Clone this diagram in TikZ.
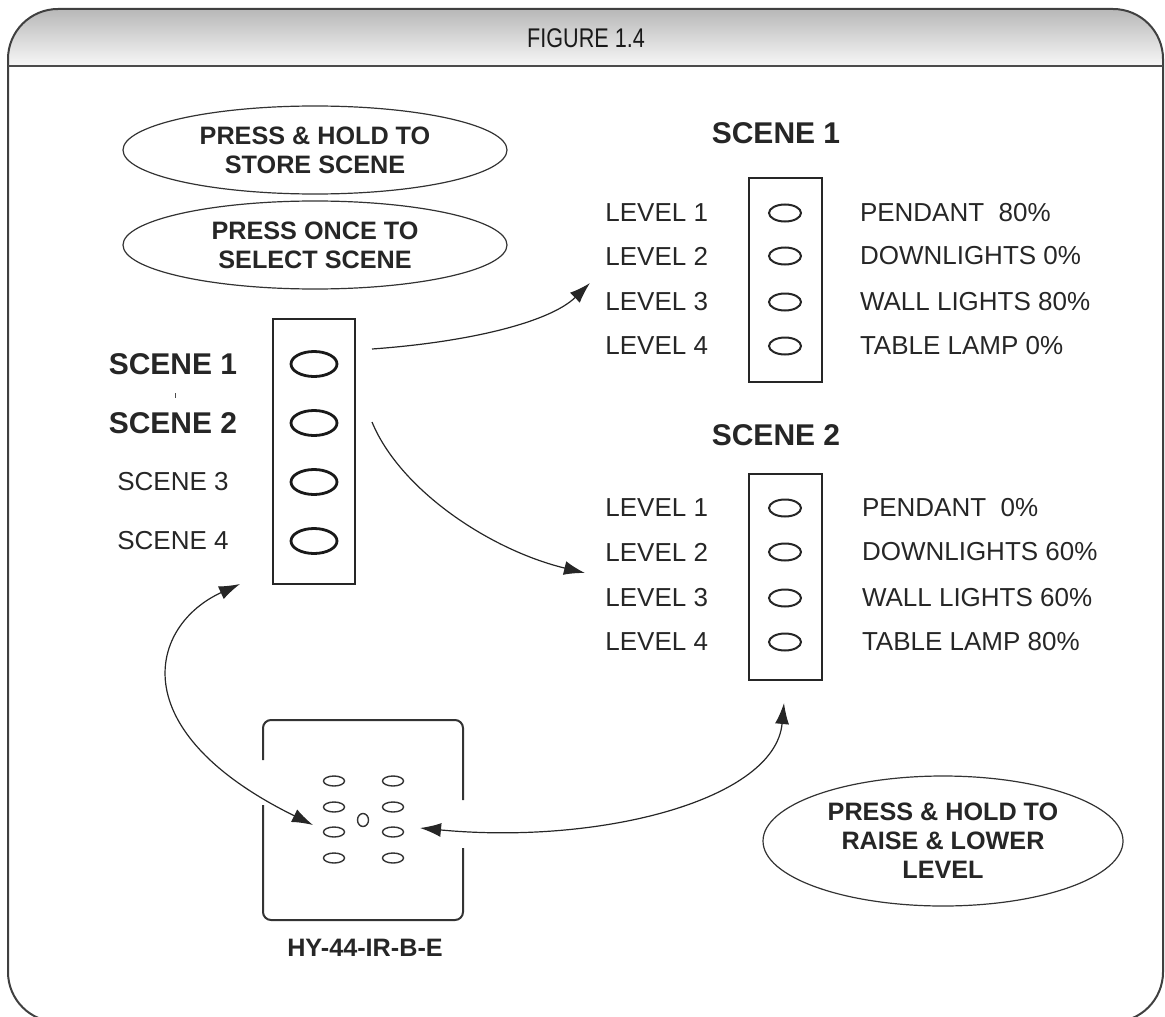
\documentclass[tikz,border=0pt]{standalone}
\usepackage{fontspec}
\setmainfont{Liberation Sans}
\newfontfamily\narrowfont[FakeStretch=0.8]{Liberation Sans}
\usepackage{tikz}
\usetikzlibrary{shapes.geometric, arrows.meta, positioning}

\begin{document}
\begin{tikzpicture}[
	x=0.5pt, y=-0.5pt,
	>={Latex[length=10.5pt, width=7pt]},
	every node/.style = {inner sep=0mm, outer sep=0mm, text=black!85},
	hint/.style = {shape=ellipse, draw=black!80, line width=0.6pt, minimum width=192pt, minimum height=44pt, align=center, font=\fontsize{12.6}{14.5}\selectfont\bfseries},
	panel/.style = {shape=rectangle, draw=black!85, line width=1pt, minimum width=36.5pt},
	bigbtn/.style = {shape=ellipse, draw=black!90, line width=1.4pt, minimum width=23pt, minimum height=12.5pt},
	btn/.style = {shape=ellipse, draw=black!85, line width=1pt, minimum width=16pt, minimum height=8.5pt},
	keybtn/.style = {shape=ellipse, draw=black!80, line width=0.7pt, minimum width=10.5pt, minimum height=5pt},
	scn/.style = {font=\fontsize{15}{18}\selectfont\bfseries},
	lvl/.style = {font=\fontsize{13}{15}\selectfont},
	link/.style = {draw=black!85, line width=0.6pt, ->},
	dlink/.style = {draw=black!85, line width=0.6pt, <->},
	]
\useasboundingbox (0,0) rectangle (1165,1016);
% frame and header
\shade[top color=black!28, bottom color=black!3, rounded corners=25pt] (8,66) -- (8,9) -- (1163,9) -- (1163,66);
\draw[black!75, line width=1pt, rounded corners=25pt] (8,1022) -- (8,9) -- (1163,9) -- (1163,1022) -- cycle;
\draw[black!70, line width=1.2pt] (8,66) -- (1163,66);
\node[font=\narrowfont\fontsize{13.5}{16}\selectfont, text=black!90] (title) at (586,38) {FIGURE 1.4};

% notes
\node[hint] (store) at (315,150) {PRESS \& HOLD TO\\STORE SCENE};
\node[hint] (select) at (315,245) {PRESS ONCE TO\\SELECT SCENE};
\node[hint, minimum width=180pt, minimum height=65pt] (raise) at (943,841) {PRESS \& HOLD TO\\RAISE \& LOWER\\LEVEL};

% scene selector
\node[panel, minimum width=41pt, minimum height=132.5pt] (sel) at (314,451) {};
\foreach \i/\y in {1/364, 2/423, 3/482, 4/541}
	\node[bigbtn] (s\i) at (314,\y) {};
\node[scn] (ls1) at (173,364) {SCENE 1};
\node[scn] (ls2) at (173,423) {SCENE 2};
\node[lvl] (ls3) at (173,482) {SCENE 3};
\node[lvl] (ls4) at (173,541) {SCENE 4};
\draw[black!70, line width=0.5pt] (175,393) -- (175,398);

% scene 1 levels
\node[scn] (t1) at (776,133) {SCENE 1};
\node[panel, minimum height=102pt] (p1) at (785.5,280) {};
\foreach \i/\y/\txt in {1/213/PENDANT\ \ 80\%, 2/256/DOWNLIGHTS 0\%, 3/302/WALL LIGHTS 80\%, 4/346/TABLE LAMP 0\%} {
	\node[btn] (a\i) at (785,\y) {};
	\node[lvl] (la\i) [left=30.5pt of a\i] {LEVEL \i};
	\node[lvl] (ra\i) [right=29.5pt of a\i] {\txt};
}

% scene 2 levels
\node[scn] (t2) at (776,435) {SCENE 2};
\node[panel, minimum height=103pt] (p2) at (785.5,577) {};
\foreach \i/\y/\txt in {1/508/PENDANT\ \ 0\%, 2/552/DOWNLIGHTS 60\%, 3/598/WALL LIGHTS 60\%, 4/642/TABLE LAMP 80\%} {
	\node[btn] (b\i) at (785,\y) {};
	\node[lvl] (lb\i) [left=30.5pt of b\i] {LEVEL \i};
	\node[lvl] (rb\i) [right=30.5pt of b\i] {\txt};
}

% remote
\draw[black!80, line width=1pt, rounded corners=4pt] (263,760) -- (263,720) -- (463,720) -- (463,800);
\draw[black!80, line width=1pt, rounded corners=4pt] (463,848) -- (463,920) -- (263,920) -- (263,805);
\foreach \y [count=\k] in {781,807,832,858} {
	\node[keybtn] (kl\k) at (334,\y) {};
	\node[keybtn] (kr\k) at (393,\y) {};
}
\node[keybtn, minimum width=5.5pt, minimum height=6.5pt] (kc) at (363,820) {};
\node[font=\fontsize{12.6}{15}\selectfont\bfseries] (model) at (365,948) {HY-44-IR-B-E};

% arrows
\coordinate (a1s) at (372,349);
\coordinate (a1e) at (590,283);
\coordinate (a2s) at (372,422);
\coordinate (a2e) at (585,573);
\coordinate (a3s) at (240,584);
\coordinate (a3e) at (313,825);
\coordinate (a4s) at (420,828);
\coordinate (a4e) at (784,703);
\draw[link] (a1s) .. controls (470,342) and (550,322) .. (a1e);
\draw[link] (a2s) .. controls (400,490) and (490,550) .. (a2e);
\draw[dlink] (a3s) .. controls (150,625) and (120,730) .. (a3e);
\draw[dlink] (a4s) .. controls (600,845) and (775,800) .. (a4e);
\end{tikzpicture}
\end{document}
